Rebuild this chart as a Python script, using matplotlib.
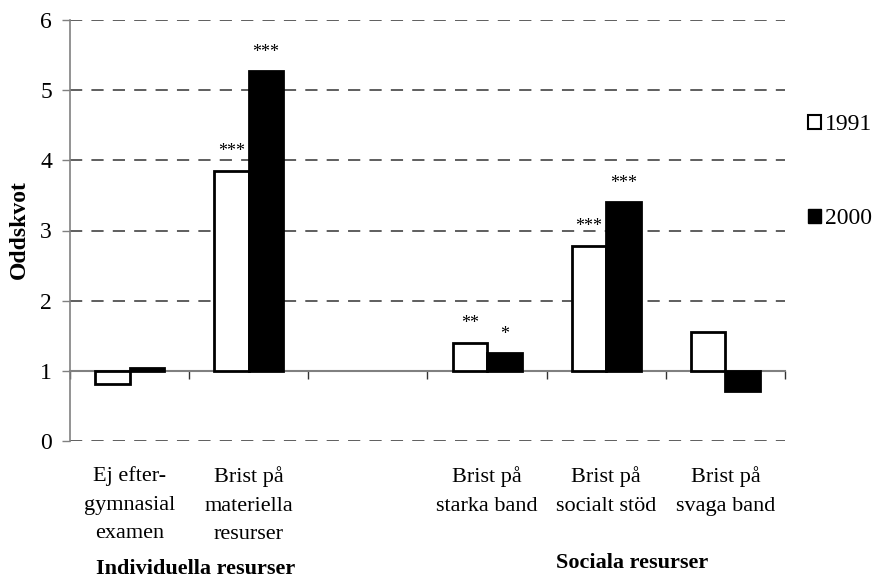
import matplotlib
matplotlib.use("Agg")
import matplotlib.pyplot as plt
from matplotlib.patches import Patch
import numpy as np

plt.rcParams['font.family'] = ['Liberation Serif', 'DejaVu Serif']

# data (oddskvoter, baslinje 1)
kategorier = ["Ej efter-\ngymnasial\nexamen", "Brist på\nmateriella\nresurser", "",
              "Brist på\nstarka band", "Brist på\nsocialt stöd", "Brist på\nsvaga band"]
v1991 = [0.81, 3.85, np.nan, 1.40, 2.78, 1.56]
v2000 = [1.045, 5.27, np.nan, 1.25, 3.40, 0.715]
sig1991 = ["", "***", "", "**", "***", ""]
sig2000 = ["", "***", "", "*", "***", ""]
grupper = ["Individuella resurser", "Sociala resurser"]

fig = plt.figure(figsize=(8.76, 5.82), dpi=100)
ax = fig.add_axes([70/876, 1-441/582, 715/876, 421/582])

x = np.arange(len(kategorier))
w = 0.29
a = np.array(v1991)
b = np.array(v2000)
ax.bar(x - w/2, a - 1, bottom=1, width=w, color='white', edgecolor='black', linewidth=2, zorder=3, label='1991')
ax.bar(x + w/2, b - 1, bottom=1, width=w, color='black', edgecolor='black', linewidth=2, zorder=3, label='2000')

# signifikansstjärnor
for i in range(len(x)):
    if sig1991[i]:
        ax.text(x[i] - w/2, a[i] + 0.27, sig1991[i], ha='center', va='center', fontsize=13)
    if sig2000[i]:
        ax.text(x[i] + w/2, b[i] + 0.27, sig2000[i], ha='center', va='center', fontsize=13)

ax.set_xlim(-0.5, 5.5)
ax.set_ylim(0, 6)
ax.set_yticks([0, 1, 2, 3, 4, 5, 6])
ax.tick_params(axis='y', direction='out', length=6, width=1, color='#808080', labelsize=17, pad=7)
for yy in [0, 2, 3, 4, 5, 6]:
    ax.axhline(yy, color='#333333', lw=1.1, ls=(0, (8, 6)), zorder=1)

# x-axeln ligger vid 1
ax.spines['top'].set_visible(False)
ax.spines['right'].set_visible(False)
ax.spines['bottom'].set_position(('data', 1))
ax.spines['bottom'].set_color('#808080')
ax.spines['bottom'].set_linewidth(1.5)
ax.spines['left'].set_color('#808080')
ax.spines['left'].set_linewidth(1.2)
ax.set_xticks(np.arange(-0.5, 6, 1))
ax.set_xticklabels([])
ax.tick_params(axis='x', direction='out', length=6, width=1, color='#333333')

for i, k in enumerate(kategorier):
    ax.text(i, -0.36, k, ha='center', va='top', fontsize=16, linespacing=1.68, clip_on=False)

fig.text(196/876, 1-559/582, grupper[0], ha='center', va='top', fontsize=16, fontweight='bold')
fig.text(632/876, 1-553/582, grupper[1], ha='center', va='top', fontsize=16, fontweight='bold')

fig.text(19/876, 1-230/582, "Oddskvot", rotation=90, ha='center', va='center', fontsize=17, fontweight='bold')

ax.legend(handles=[Patch(facecolor='white', edgecolor='black', linewidth=1.5, label='1991'),
                   Patch(facecolor='black', edgecolor='black', label='2000')],
          loc='upper left', bbox_to_anchor=(808/876, 1-114/582), bbox_transform=fig.transFigure,
          frameon=False, fontsize=17, handlelength=0.55, handleheight=0.55, handletextpad=0.15,
          labelspacing=3.1, borderpad=0, borderaxespad=0)

fig.savefig("out.png", dpi=100)
